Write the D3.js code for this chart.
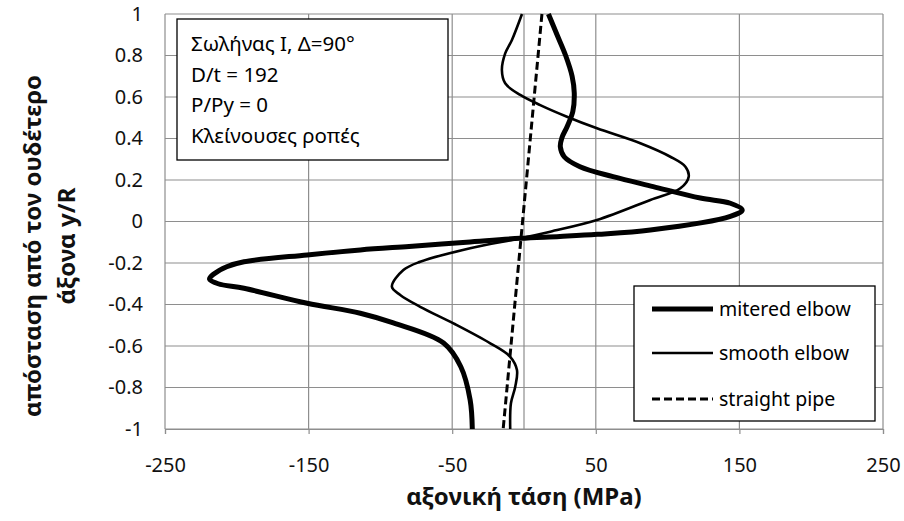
<!DOCTYPE html>
<html><head><meta charset="utf-8">
<script src="https://cdn.jsdelivr.net/npm/d3@7"></script>
<style>
html,body{margin:0;padding:0;background:#fff;}
svg{display:block;font-family:"Noto Sans","Open Sans",sans-serif;}
</style></head>
<body><svg id="chart" width="904" height="521"></svg>
<script>
// ---- data ----
const xTicks = [-250, -150, -50, 50, 150, 250];
const yTicks = [-1, -0.8, -0.6, -0.4, -0.2, 0, 0.2, 0.4, 0.6, 0.8, 1];

const miteredY = [1, 0.9, 0.8, 0.7, 0.62, 0.53, 0.457, 0.404, 0.36, 0.312, 0.264, 0.216, 0.168, 0.113, 0.088, 0.056, 0.025, -0.041, -0.062, -0.072, -0.081, -0.1, -0.12, -0.137, -0.161, -0.194, -0.218, -0.253, -0.277, -0.3, -0.322, -0.394, -0.442, -0.489, -0.586, -0.7, -0.86, -1];
const miteredStress = [17, 23, 29, 33.5, 35, 34, 30, 26.4, 25.3, 28, 39, 62, 90, 122.8, 143.7, 152, 143.7, 88, 51, 25, -2.6, -40, -80, -114, -151, -195, -207, -216, -219, -213, -195, -151, -114, -91, -56, -44, -37.5, -36];

const smoothY = [1, 0.875, 0.81, 0.73, 0.666, 0.61, 0.561, 0.505, 0.449, 0.377, 0.312, 0.264, 0.216, 0.16, 0.104, 0.007, -0.049, -0.081, -0.129, -0.194, -0.234, -0.314, -0.354, -0.411, -0.491, -0.587, -0.652, -0.716, -0.796, -0.876, -1];
const smoothStress = [-1.4, -8.4, -13.1, -15.4, -13.1, -2.6, 11.3, 29.9, 50.8, 81, 101.9, 112.4, 114.7, 108.9, 88, 50.8, 18.3, -2.6, -37.5, -72.3, -84, -92, -86.2, -72.3, -49.1, -23.5, -9.6, -4.9, -6.1, -9.1, -9.6];

const straightY = [1, 0, -1];
const straightStress = [12.5, -1, -14.5];

const seriesNames = ["mitered elbow", "smooth elbow", "straight pipe"];
const infoLines = ["Σωλήνας Ι, Δ=90°", "D/t = 192", "P/Py = 0", "Κλείνουσες ροπές"];
const xTitle = "αξονική τάση (MPa)";
const yTitleLines = ["απόσταση από τον ουδέτερο", "άξονα  y/R"];

// ---- layout ----
const L = 165, R = 883, T = 14, B = 429;
const svg = d3.select("#chart");
const x = d3.scaleLinear().domain([-250, 250]).range([L, R]);
const y = d3.scaleLinear().domain([-1, 1]).range([B, T]);
const gridColor = "#8e8e8e";
const fmt = d => String(+(+d).toFixed(1)); // plain hyphen minus

// horizontal grid
svg.append("g").selectAll("line").data(yTicks).join("line")
  .attr("x1", L).attr("x2", R)
  .attr("y1", d => y(d)).attr("y2", d => y(d))
  .attr("stroke", gridColor).attr("stroke-width", 1.2);
// vertical grid
svg.append("g").selectAll("line").data(xTicks).join("line")
  .attr("x1", d => x(d)).attr("x2", d => x(d))
  .attr("y1", T).attr("y2", B)
  .attr("stroke", gridColor).attr("stroke-width", 1.2);
// vertical axis line at 0
svg.append("line").attr("x1", x(0)).attr("x2", x(0)).attr("y1", T).attr("y2", B)
  .attr("stroke", gridColor).attr("stroke-width", 1.2);

// x axis
const gx = svg.append("g").attr("transform", `translate(0,${B})`)
  .call(d3.axisBottom(x).tickValues(xTicks).tickSize(5).tickPadding(24).tickFormat(fmt));
gx.select(".domain").attr("stroke", gridColor).attr("stroke-width", 1.2);
gx.selectAll(".tick line").attr("stroke", gridColor).attr("stroke-width", 1.2);
gx.selectAll("text").attr("font-size", 20).attr("fill", "#111").attr("font-family", "Noto Sans");

// y axis labels
const gy = svg.append("g").attr("transform", `translate(${L},0)`)
  .call(d3.axisLeft(y).tickValues(yTicks).tickSize(0).tickPadding(22).tickFormat(fmt));
gy.select(".domain").remove();
gy.selectAll("text").attr("font-size", 20).attr("fill", "#111").attr("font-family", "Noto Sans");

// curves
svg.append("clipPath").attr("id", "pc").append("rect")
  .attr("x", L - 5).attr("y", T - 1).attr("width", R - L + 10).attr("height", B - T + 2);
function pts(ys, vs) { return ys.map((d, i) => [vs[i], d]); }
const line = d3.line().x(d => x(d[0])).y(d => y(d[1])).curve(d3.curveCatmullRom.alpha(0.5));
const g = svg.append("g").attr("clip-path", "url(#pc)");
g.append("path").attr("d", d3.line().x(d => x(d[0])).y(d => y(d[1]))(pts(straightY, straightStress)))
  .attr("fill", "none").attr("stroke", "#000").attr("stroke-width", 3).attr("stroke-dasharray", "8,4");
g.append("path").attr("d", line(pts(smoothY, smoothStress)))
  .attr("fill", "none").attr("stroke", "#000").attr("stroke-width", 2.6).attr("stroke-linejoin", "round");
g.append("path").attr("d", line(pts(miteredY, miteredStress)))
  .attr("fill", "none").attr("stroke", "#000").attr("stroke-width", 5).attr("stroke-linejoin", "round");

// info box
svg.append("rect").attr("x", 177).attr("y", 19).attr("width", 271).attr("height", 141)
  .attr("fill", "#fff").attr("stroke", "#000").attr("stroke-width", 1.3);
svg.append("g").selectAll("text").data(infoLines).join("text")
  .attr("x", 191).attr("y", (d, i) => 51 + i * 30.5)
  .attr("font-size", 20.5).attr("fill", "#000").text(d => d);

// legend
svg.append("rect").attr("x", 634).attr("y", 286).attr("width", 241).attr("height", 135)
  .attr("fill", "#fff").attr("stroke", "#000").attr("stroke-width", 1.3);
const legW = [5, 2.6, 3];
const legDash = [null, null, "8,4"];
const legY = [309, 353, 399];
const lg = svg.append("g").selectAll("g").data(seriesNames).join("g");
lg.append("line").attr("x1", 652).attr("x2", 713).attr("y1", (d, i) => legY[i]).attr("y2", (d, i) => legY[i])
  .attr("stroke", "#000").attr("stroke-width", (d, i) => legW[i]).attr("stroke-dasharray", (d, i) => legDash[i]);
lg.append("text").attr("x", 719).attr("y", (d, i) => legY[i]).attr("dy", "0.35em")
  .attr("font-size", 19.5).attr("fill", "#000").text(d => d);

// axis titles
svg.append("text").attr("x", 524).attr("y", 505).attr("text-anchor", "middle")
  .attr("font-size", 24).attr("font-weight", "bold").attr("fill", "#111").text(xTitle);
svg.append("g").attr("transform", "translate(0,246)").selectAll("text").data(yTitleLines).join("text")
  .attr("transform", (d, i) => `translate(${[41, 75][i]},0) rotate(-90)`)
  .attr("text-anchor", "middle")
  .attr("font-size", 24).attr("font-weight", "bold").attr("fill", "#111").text(d => d);
</script></body></html>
